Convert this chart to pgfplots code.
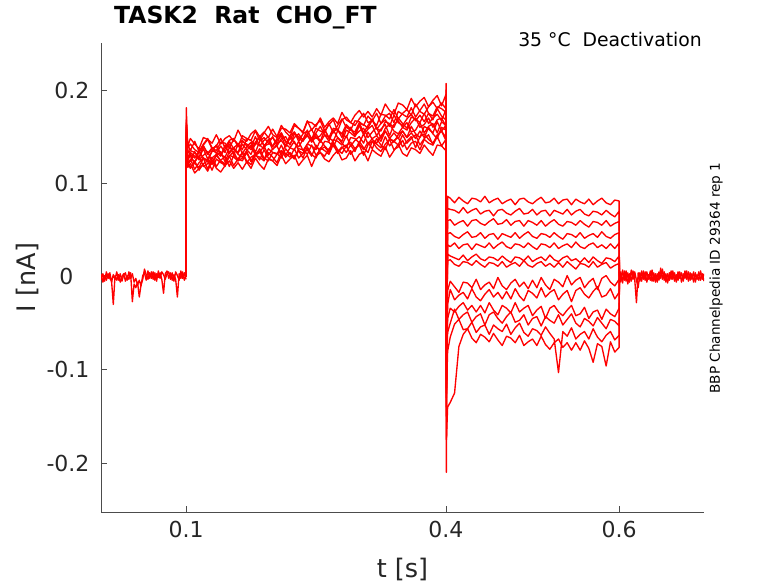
\documentclass[border=0pt]{standalone}
\usepackage{fontspec}
\setmainfont{DejaVu Sans}
\usepackage{pgfplots}
\usepackage{pgfplotstable}
\pgfplotsset{compat=1.18}
\definecolor{axgray}{rgb}{0.30,0.30,0.30}
\definecolor{txtgray}{rgb}{0.15,0.15,0.15}

% baseline before the step (values in pA)
\pgfplotstableread{
x y1 y2
0.000 -3 4
0.002 2 -3
0.004 -6 3
0.006 1 -5
0.008 -4 5
0.010 3 -2
0.012 -2 4
0.014 -5 -6
0.016 -30 2
0.018 1 -3
0.020 -4 5
0.022 2 -4
0.024 -6 3
0.026 0 -5
0.028 3 2
0.030 -5 4
0.032 1 -4
0.034 -3 5
0.036 4 -2
0.038 -27 3
0.040 -8 -6
0.042 -12 -2
0.044 -6 -9
0.046 -22 -4
0.048 -9 -10
0.050 -3 1
0.052 8 4
0.054 2 -4
0.056 -3 6
0.058 4 -2
0.060 -2 5
0.062 5 -3
0.064 -4 4
0.066 3 -5
0.068 -1 6
0.070 4 -2
0.072 -3 5
0.074 -18 2
0.076 3 -3
0.078 6 3
0.080 -2 5
0.082 4 -3
0.084 -4 4
0.086 2 -5
0.088 -3 5
0.090 -22 1
0.092 3 -4
0.094 -2 6
0.096 5 -2
0.098 -4 4
0.100 2 -3
}\pre

% baseline after the test pulse (values in pA)
\pgfplotstableread{
x y1 y2
0.600 5 -4
0.602 -6 5
0.604 7 -7
0.606 -4 6
0.608 6 -5
0.610 -8 4
0.612 3 -6
0.614 -5 7
0.616 6 -3
0.618 -3 5
0.620 -28 -4
0.622 4 -12
0.624 -5 4
0.626 6 -5
0.628 -3 6
0.630 5 -4
0.632 -6 5
0.634 2 -3
0.636 -4 6
0.638 7 -5
0.640 -5 4
0.642 3 -6
0.644 -6 3
0.646 5 -4
0.648 -2 9
0.650 8 -3
0.652 -4 5
0.654 3 -6
0.656 -7 3
0.658 4 -4
0.660 -3 6
0.662 6 -3
0.664 -5 4
0.666 2 -6
0.668 -4 5
0.670 5 -2
0.672 -6 4
0.674 3 -5
0.676 -2 6
0.678 6 -3
0.680 -5 5
0.682 4 -4
0.684 -3 3
0.686 5 -6
0.688 -6 4
0.690 2 -3
0.692 -4 5
0.694 6 -4
0.696 -3 3
0.698 3 -5
}\post

% 13 sweeps, prepulse 0.1-0.4 s and test pulse 0.4-0.6 s (values in pA)
\pgfplotstableread{
x c1 c2 c3 c4 c5 c6 c7 c8 c9 c10 c11 c12 c13
0.1000 0 0 0 0 0 0 0 0 0 0 0 0 0
0.1003 181 160 150 165 145 155 150 168 142 158 152 148 162
0.1020 128 133 118 138 121 126 125 140 117 135 124 122 141
0.105 129 135 126 142 117 133 130 148 121 131 123 116 135
0.110 122 133 115 136 124 129 121 142 111 127 134 123 145
0.115 134 128 122 133 114 127 117 137 116 135 125 129 134
0.120 127 140 127 141 121 137 127 149 120 140 130 118 142
0.125 123 131 115 147 124 126 125 147 113 132 134 121 148
0.130 135 137 127 137 114 134 120 143 124 138 123 128 138
0.135 133 140 131 140 126 141 130 152 116 132 130 118 135
0.140 129 130 124 148 122 131 124 142 112 140 134 125 144
0.145 141 137 121 138 120 128 118 148 119 133 123 128 143
0.150 132 142 129 146 129 138 130 151 124 145 134 118 138
0.155 138 130 134 148 119 136 128 145 116 137 138 130 147
0.160 142 142 124 139 126 132 124 157 122 133 131 126 142
0.165 132 146 127 151 133 142 133 148 115 145 128 124 136
0.170 139 140 134 148 124 136 122 145 123 142 135 133 148
0.175 144 136 124 146 120 131 128 153 116 138 141 123 146
0.180 133 144 132 156 130 143 131 157 127 150 130 130 141
0.185 145 150 134 146 128 141 125 150 120 140 133 137 151
0.190 149 140 125 154 124 137 136 155 115 146 140 127 140
0.195 143 142 137 161 133 147 127 149 126 150 130 124 146
0.200 140 150 133 152 128 136 124 158 124 139 137 133 149
0.205 148 140 131 149 122 142 131 150 119 146 140 132 142
0.210 154 148 141 159 134 146 135 162 130 151 130 127 154
0.215 144 150 130 158 132 139 128 155 121 139 142 137 145
0.220 147 141 138 154 128 151 133 150 126 151 138 131 142
0.225 155 153 145 164 137 143 127 162 130 155 136 126 149
0.230 145 150 135 159 127 139 135 159 119 148 145 137 153
0.235 153 147 132 154 132 147 127 155 125 145 135 136 146
0.240 156 157 142 166 136 152 139 167 130 153 142 131 151
0.245 147 147 140 165 129 144 131 157 118 158 149 141 145
0.250 159 154 136 161 141 150 127 163 129 148 139 130 153
0.255 156 161 146 170 133 144 138 167 133 151 136 136 145
0.260 154 152 140 160 129 152 135 156 126 158 145 139 157
0.265 164 149 135 166 137 145 131 163 123 148 144 133 149
0.270 154 159 147 170 141 157 142 168 130 156 139 144 145
0.275 162 157 145 164 134 149 132 156 135 158 149 136 156
0.280 169 153 141 176 139 145 138 168 125 149 143 132 153
0.285 160 163 151 168 133 157 141 171 127 161 138 140 149
0.290 157 158 140 165 141 154 131 165 135 157 149 144 160
0.295 167 152 146 173 134 150 137 162 124 155 148 137 151
0.300 166 164 150 178 145 162 141 169 131 165 143 142 156
0.305 162 163 143 171 138 152 130 175 134 154 153 136 159
0.310 172 159 155 177 133 158 141 165 124 162 142 144 149
0.315 167 168 147 171 145 162 145 167 136 169 148 137 155
0.320 162 158 143 180 142 151 138 175 132 159 151 148 160
0.325 174 164 151 173 138 158 134 164 129 156 145 141 148
0.330 173 168 156 185 150 163 142 172 139 166 156 136 159
0.335 169 161 148 178 140 151 147 175 128 164 148 148 163
0.340 179 173 154 174 146 163 136 165 135 160 144 145 156
0.345 169 165 148 186 149 167 139 177 142 170 152 141 153
0.350 175 162 156 184 139 160 146 174 132 164 156 152 160
0.355 179 169 149 179 145 157 136 171 129 159 149 143 165
0.360 173 174 161 191 150 165 143 181 138 171 154 148 155
0.365 185 167 153 182 138 170 145 171 136 169 148 152 157
0.370 177 173 149 188 150 160 136 178 132 165 156 141 165
0.375 174 166 161 192 153 163 147 185 141 175 149 148 154
0.380 182 175 158 182 147 170 143 175 135 164 160 152 161
0.385 187 168 154 189 143 160 141 172 130 170 153 141 164
0.390 180 180 166 194 151 168 150 182 141 174 148 152 154
0.395 186 172 156 183 156 170 140 180 140 167 160 156 166
0.400 180 168 162 195 146 161 147 176 135 179 157 149 162
0.4003 207 178 172 200 156 171 157 186 145 189 167 159 172
0.4006 -210 -150 -120 -100 -90 -80 -70 -130 -140 -110 -95 -125 -175
0.402 86 73 60 46 34 24 17 -15 -30 -45 -60 -80 -140
0.405 84 72 61 47 32 22 18 -5 -14 -34 -50 -65 -135
0.410 79 71 55 43 36 20 13 -11 -25 -38 -35 -51 -125
0.415 85 68 58 41 30 18 11 -17 -20 -32 -46 -46 -75
0.420 81 74 60 45 34 23 16 -6 -17 -28 -41 -57 -62
0.425 78 68 54 48 35 17 15 -7 -24 -36 -38 -56 -56
0.430 84 71 60 42 29 21 12 -12 -13 -31 -49 -49 -66
0.435 83 73 61 43 35 24 17 -3 -22 -38 -43 -60 -71
0.440 80 67 57 47 33 19 13 -14 -26 -31 -40 -54 -62
0.445 86 70 55 41 31 17 10 -9 -19 -39 -52 -52 -65
0.450 79 71 59 45 36 21 15 -6 -14 -28 -41 -62 -70
0.455 82 65 62 46 30 20 14 -13 -22 -36 -38 -52 -61
0.460 84 71 56 40 34 17 11 -1 -17 -41 -45 -56 -68
0.465 78 72 57 46 37 22 16 -10 -24 -31 -50 -59 -74
0.470 81 68 61 44 32 18 10 -14 -16 -34 -43 -51 -64
0.475 83 66 55 42 30 15 13 -7 -24 -39 -38 -62 -66
0.480 77 70 59 47 35 21 15 -3 -13 -28 -49 -55 -71
0.485 83 73 60 41 34 20 11 -11 -21 -38 -47 -50 -63
0.490 84 67 54 45 31 17 17 -6 -26 -34 -41 -60 -74
0.495 80 68 60 48 36 22 12 -13 -15 -31 -52 -64 -70
0.500 78 72 58 43 32 16 10 -4 -18 -42 -45 -56 -67
0.505 82 66 55 41 29 19 14 -12 -23 -36 -43 -58 -74
0.510 85 70 60 46 35 21 16 -1 -12 -32 -53 -63 -64
0.515 79 71 54 45 34 17 11 -9 -22 -45 -43 -54 -73
0.520 80 65 58 42 31 23 14 -14 -17 -34 -47 -61 -78
0.525 84 71 61 47 36 18 10 -3 -14 -31 -50 -67 -71
0.530 78 69 56 43 30 16 15 -6 -25 -38 -41 -103 -67
0.535 82 67 54 40 33 20 10 -11 -19 -42 -52 -59 -76
0.540 83 72 59 46 35 22 16 1 -15 -36 -46 -64 -71
0.545 77 66 58 45 31 17 12 -9 -27 -31 -40 -55 -79
0.550 83 70 55 42 37 19 8 -4 -15 -42 -50 -67 -71
0.555 80 72 60 47 32 15 14 -1 -12 -40 -54 -62 -79
0.560 78 67 56 41 30 20 13 -12 -19 -33 -45 -59 -69
0.565 83 65 53 44 34 15 10 -6 -23 -45 -48 -67 -77
0.570 77 70 59 46 36 21 16 -2 -16 -38 -53 -56 -92
0.575 81 69 58 42 31 17 10 -14 -11 -36 -44 -65 -72
0.580 84 66 55 48 34 14 13 -2 -22 -46 -50 -70 -75
0.585 79 71 60 43 30 20 15 1 -20 -35 -56 -63 -96
0.590 77 67 54 41 35 19 9 -6 -13 -40 -46 -59 -70
0.595 82 64 57 45 30 16 12 -10 -24 -43 -48 -68 -81
0.600 81 70 59 47 36 22 14 -3 -17 -34 -53 -63 -76
0.6003 0 0 0 0 0 0 0 0 0 0 0 0 0
}\tr

\begin{document}
\begin{tikzpicture}
\path[use as bounding box] (0,0) rectangle (778pt,583pt);
\begin{axis}[
  at={(101pt,71pt)}, anchor=south west,
  width=603pt, height=469pt, scale only axis,
  xmin=0.0018, xmax=0.698, ymin=-0.2525, ymax=0.2504,
  axis x line*=bottom, axis y line*=left,
  axis line style={-, draw=axgray, line width=0.8pt},
  tick align=inside, major tick length=6pt,
  tick style={draw=axgray, line width=0.8pt},
  xtick={0.1,0.4,0.6}, xticklabels={0.1,0.4,0.6},
  ytick={-0.2,-0.1,0,0.1,0.2},
  yticklabels={-0.2,-0.1,0\rule{16pt}{0pt},0.1,0.2},
  /pgf/number format/assume math mode=true,
  ticklabel style={font=\fontsize{22}{26}\selectfont, text=txtgray},
  yticklabel style={xshift=-8pt},
  xticklabel style={yshift=-5.5pt},
  xlabel={t [s]}, ylabel={I [nA]},
  label style={font=\fontsize{25.5}{30}\selectfont, text=txtgray},
  xlabel style={at={(axis description cs:0.5,-0.1407)}, anchor=base},
  ylabel style={at={(axis description cs:-0.1219,0.5)}, anchor=center},
  title={TASK2\ \ Rat\ \ CHO\_FT},
  title style={at={(axis description cs:0.0215,1.0287)}, anchor=base west, inner sep=0pt,
    font=\fontsize{23.5}{28}\selectfont\bfseries},
  tr/.style={color=red, solid, line width=1.35pt, line join=round, mark=none},
]
\addplot[tr] table[x=x, y expr=\thisrow{y1}/1000] {\pre};
\addplot[tr] table[x=x, y expr=\thisrow{y2}/1000] {\pre};
\addplot[tr] table[x=x, y expr=\thisrow{y1}/1000] {\post};
\addplot[tr] table[x=x, y expr=\thisrow{y2}/1000] {\post};
\addplot[tr] table[x=x, y expr=\thisrow{c1}/1000] {\tr};
\addplot[tr] table[x=x, y expr=\thisrow{c2}/1000] {\tr};
\addplot[tr] table[x=x, y expr=\thisrow{c3}/1000] {\tr};
\addplot[tr] table[x=x, y expr=\thisrow{c4}/1000] {\tr};
\addplot[tr] table[x=x, y expr=\thisrow{c5}/1000] {\tr};
\addplot[tr] table[x=x, y expr=\thisrow{c6}/1000] {\tr};
\addplot[tr] table[x=x, y expr=\thisrow{c7}/1000] {\tr};
\addplot[tr] table[x=x, y expr=\thisrow{c8}/1000] {\tr};
\addplot[tr] table[x=x, y expr=\thisrow{c9}/1000] {\tr};
\addplot[tr] table[x=x, y expr=\thisrow{c10}/1000] {\tr};
\addplot[tr] table[x=x, y expr=\thisrow{c11}/1000] {\tr};
\addplot[tr] table[x=x, y expr=\thisrow{c12}/1000] {\tr};
\addplot[tr] table[x=x, y expr=\thisrow{c13}/1000] {\tr};
\end{axis}
\node[anchor=base east, inner sep=0pt, font=\fontsize{18.8}{22}\selectfont] at (702pt,536pt) {35 °C\ \ Deactivation};
\node[rotate=90, anchor=center, inner sep=0pt, font=\fontsize{13.6}{16}\selectfont] at (716pt,305pt) {BBP Channelpedia ID 29364 rep 1};
\end{tikzpicture}
\end{document}
